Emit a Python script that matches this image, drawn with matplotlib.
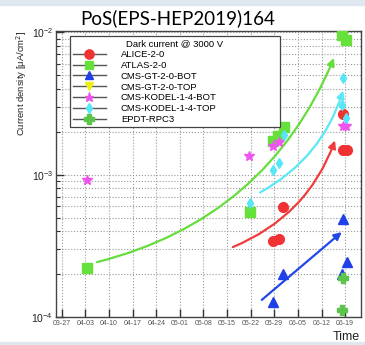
import numpy as np
import matplotlib
matplotlib.use('Agg')
import matplotlib.pyplot as plt
import matplotlib.dates as mdates
from matplotlib.lines import Line2D
from matplotlib.patches import Rectangle

aliceDates = ['2019-05-28 14:00', '2019-05-30 07:00', '2019-05-31 14:00', '2019-06-18 10:00', '2019-06-18 10:00', '2019-06-19 14:00']
aliceValues = [3.4e-4, 3.55e-4, 5.9e-4, 2.65e-3, 1.5e-3, 1.5e-3]

atlasDates = ['2019-04-03 10:00', '2019-05-21 19:00', '2019-05-28 14:00', '2019-05-30 00:00', '2019-05-31 22:00', '2019-06-18 02:00', '2019-06-19 07:00']
atlasValues = [2.2e-4, 5.5e-4, 1.72e-3, 1.87e-3, 2.15e-3, 9.5e-3, 8.8e-3]

gtBotDates = ['2019-05-28 14:00', '2019-05-31 14:00', '2019-06-18 02:00', '2019-06-19 14:00', '2019-06-18 10:00']
gtBotValues = [1.27e-4, 2.0e-4, 2.02e-4, 2.43e-4, 4.9e-4]

gtTopDates = []
gtTopValues = []

kodelBotDates = ['2019-04-03 10:00', '2019-05-21 12:00', '2019-05-28 17:00', '2019-05-30 10:00', '2019-06-18 10:00', '2019-06-19 07:00']
kodelBotValues = [9.1e-4, 1.35e-3, 1.6e-3, 1.7e-3, 2.2e-3, 2.2e-3]

kodelTopDates = ['2019-05-21 19:00', '2019-05-28 17:00', '2019-05-30 10:00', '2019-05-31 22:00', '2019-06-18 10:00', '2019-06-18 02:00', '2019-06-19 07:00']
kodelTopValues = [6.3e-4, 1.08e-3, 1.2e-3, 1.9e-3, 4.75e-3, 3.07e-3, 2.5e-3]

epdtDates = ['2019-06-18 10:00', '2019-06-18 02:00']
epdtValues = [1.88e-4, 1.12e-4]

seriesNames = ['ALICE-2-0', 'ATLAS-2-0', 'CMS-GT-2-0-BOT', 'CMS-GT-2-0-TOP', 'CMS-KODEL-1-4-BOT', 'CMS-KODEL-1-4-TOP', 'EPDT-RPC3']

# trend arrows drawn by hand on the slide
trendColors = ['#66dd3c', '#5ae8f5', '#f03c3c', '#2247e8']
trendStartDates = ['2019-04-06 10:00', '2019-05-24 19:00', '2019-05-16 17:00', '2019-05-25 07:00']
trendStartValues = [2.43e-4, 7.5e-4, 3.1e-4, 1.32e-4]
trendEndDates = ['2019-06-15 17:00', '2019-06-18 10:00', '2019-06-16 00:00', '2019-06-18 00:00']
trendEndValues = [6.6e-3, 3.9e-3, 1.74e-3, 3.95e-4]
trendBends = [0.25, 0.2, 0.22, 0.0]

tickDates = ['2019-03-27', '2019-04-03', '2019-04-10', '2019-04-17', '2019-04-24', '2019-05-01', '2019-05-08',
             '2019-05-15', '2019-05-22', '2019-05-29', '2019-06-05', '2019-06-12', '2019-06-19']
tickLabels = ['03-27', '04-03', '04-10', '04-17', '04-24', '05-01', '05-08', '05-15', '05-22', '05-29', '06-05', '06-12', '06-19']


def toNum(dates):
  return mdates.date2num(np.array(dates, dtype='datetime64[m]'))


def getGraph():
  plt.rcParams['font.family'] = ['Liberation Sans', 'DejaVu Sans']
  fig = plt.figure(figsize=(3.65, 3.45), dpi=100)
  fig.patches.append(Rectangle((0, 0.985), 1, 0.015, transform=fig.transFigure, color='#dfe7f0', zorder=0))
  fig.patches.append(Rectangle((0, 0), 1, 0.008, transform=fig.transFigure, color='#dfe7f0', zorder=0))
  ax = fig.add_axes([0.153, 0.081, 0.836, 0.829])

  styles = [
    (aliceDates, aliceValues, 'o', '#f03232', 7),
    (atlasDates, atlasValues, 's', '#66e03a', 6.5),
    (gtBotDates, gtBotValues, '^', '#1f3fe8', 6.5),
    (gtTopDates, gtTopValues, 'v', '#eeee10', 6.5),
    (kodelBotDates, kodelBotValues, '*', '#ee55ee', 7),
    (kodelTopDates, kodelTopValues, 'd', '#55e6f7', 5.5),
    (epdtDates, epdtValues, 'P', '#5cc44a', 7),
  ]
  handles = []
  for (dates, values, marker, color, size), name in zip(styles, seriesNames):
    if len(dates):
      ax.plot(toNum(dates), values, ls='none', marker=marker, color=color, ms=size, mec=color, zorder=4)
    handles.append(Line2D([], [], color='#555555', lw=1, marker=marker, mfc=color, mec=color, ms=size * 0.95))

  for i in range(len(trendColors)):
    start = (toNum([trendStartDates[i]])[0], trendStartValues[i])
    end = (toNum([trendEndDates[i]])[0], trendEndValues[i])
    ax.annotate('', xy=end, xytext=start, zorder=3,
                arrowprops=dict(arrowstyle='-|>', color=trendColors[i], lw=1.6, mutation_scale=11,
                                shrinkA=0, shrinkB=0, connectionstyle='arc3,rad=%.2f' % trendBends[i]))

  ax.set_yscale('log')
  ax.set_ylim(1e-4, 1.02e-2)
  ax.set_xlim(toNum(['2019-03-25 05:00'])[0], toNum(['2019-06-23 17:00'])[0])
  ax.set_xticks(toNum(tickDates))
  ax.set_xticklabels(tickLabels)
  ax.tick_params(axis='x', direction='in', length=6, width=1, labelsize=5, pad=2, colors='#333333', labelcolor='#555555')
  ax.tick_params(axis='y', which='major', direction='in', length=6, width=1, labelsize=7.5, pad=2, colors='#333333', labelcolor='#222222')
  ax.tick_params(axis='y', which='minor', direction='in', length=3, width=0.8, colors='#333333')
  ax.grid(True, axis='x', which='major', ls=':', lw=0.8, color='#9a9a9a')
  ax.grid(True, axis='y', which='both', ls=':', lw=0.8, color='#9a9a9a')
  for spine in ax.spines.values():
    spine.set_color('#444444')
    spine.set_linewidth(1)

  leg = ax.legend(handles, seriesNames, title='Dark current @ 3000 V', loc='upper left',
                  bbox_to_anchor=(0.046, 0.2, 0.689, 0.782), mode='expand', borderaxespad=0,
                  fontsize=6.8, title_fontsize=6.8,
                  handlelength=3.5, handletextpad=1.6, labelspacing=0.2, borderpad=0.3,
                  fancybox=False, edgecolor='#444444', framealpha=1)
  leg.get_frame().set_linewidth(0.9)
  leg.set_zorder(5)

  fig.text(0.486, 0.948, 'PoS(EPS-HEP2019)164', ha='center', va='center', fontsize=13.5, family=['Lato', 'DejaVu Sans'])
  fig.text(0.06, 0.91, 'Current density [μA/cm$^2$]', rotation=90, ha='center', va='top', fontsize=6.8, color='#222222')
  fig.text(0.986, 0.023, 'Time', ha='right', va='center', fontsize=9, color='#222222')
  return fig


if __name__ == '__main__':
  fig = getGraph()
  fig.savefig('out.png', dpi=100)
